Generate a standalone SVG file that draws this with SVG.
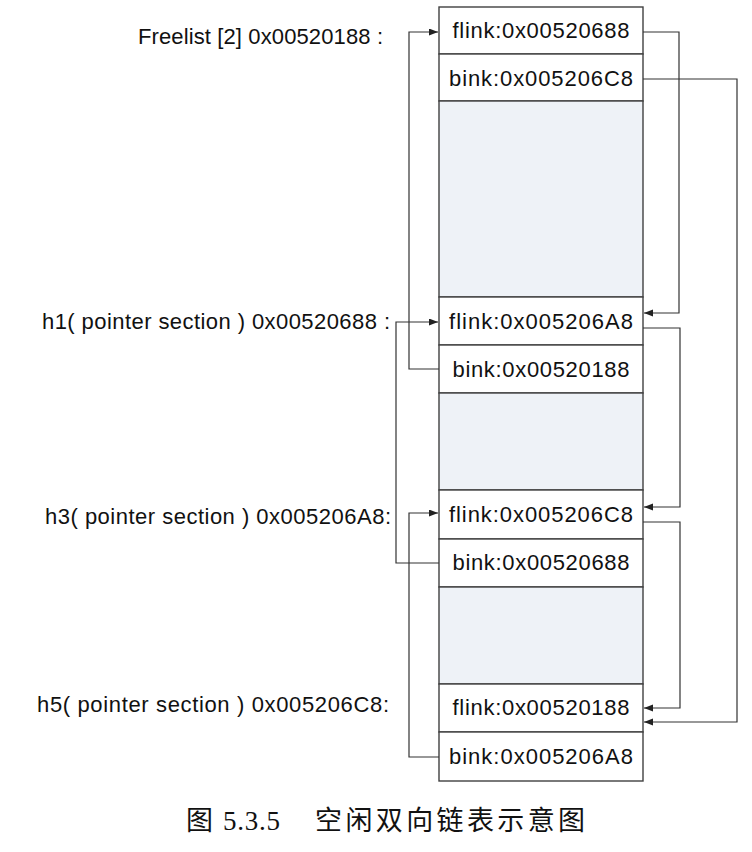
<svg xmlns="http://www.w3.org/2000/svg" width="752" height="852" viewBox="0 0 752 852">
  <style>
    .cell { fill: #ffffff; stroke: #404040; stroke-width: 1.4; }
    .gap { fill: #eef2f7; stroke: #404040; stroke-width: 1.4; }
    .ct { font-family: "Liberation Sans", Arial, sans-serif; font-size: 22px; fill: #111; text-anchor: middle; }
    .lt { font-family: "Liberation Sans", Arial, sans-serif; font-size: 22px; fill: #111; }
    .wire { fill: none; stroke: #333; stroke-width: 1.2; }
    .cap { font-family: "Liberation Serif", "Noto Sans CJK SC", serif; font-size: 27px; fill: #111; }
  </style>
  <defs>
    <marker id="arr" markerUnits="userSpaceOnUse" markerWidth="10" markerHeight="8" refX="9" refY="3.5" orient="auto">
      <path d="M0,0 L9,3.5 L0,7 z" fill="#222"/>
    </marker>
  </defs>
  <rect width="752" height="852" fill="#ffffff"/>

  <g id="freelist">
    <rect class="cell" x="439" y="7" width="204" height="47"/>
    <rect class="cell" x="439" y="54" width="204" height="47"/>
    <text class="ct" x="541" y="38" textLength="177" lengthAdjust="spacing">flink:0x00520688</text>
    <text class="ct" x="541" y="86" textLength="184" lengthAdjust="spacing">bink:0x005206C8</text>
    <text class="lt" x="138" y="44" textLength="245" lengthAdjust="spacing">Freelist [2] 0x00520188 :</text>
  </g>

  <g id="gap1">
    <rect class="gap" x="439" y="101" width="204" height="196"/>
  </g>

  <g id="h1">
    <rect class="cell" x="439" y="297" width="204" height="48"/>
    <rect class="cell" x="439" y="345" width="204" height="48"/>
    <text class="ct" x="541" y="329" textLength="184" lengthAdjust="spacing">flink:0x005206A8</text>
    <text class="ct" x="541" y="377" textLength="177" lengthAdjust="spacing">bink:0x00520188</text>
    <text class="lt" x="42" y="329" textLength="348" lengthAdjust="spacing">h1( pointer section ) 0x00520688 :</text>
  </g>

  <g id="gap2">
    <rect class="gap" x="439" y="393" width="204" height="97"/>
  </g>

  <g id="h3">
    <rect class="cell" x="439" y="490" width="204" height="49"/>
    <rect class="cell" x="439" y="539" width="204" height="48"/>
    <text class="ct" x="541" y="522" textLength="184" lengthAdjust="spacing">flink:0x005206C8</text>
    <text class="ct" x="541" y="570" textLength="177" lengthAdjust="spacing">bink:0x00520688</text>
    <text class="lt" x="45" y="524" textLength="346" lengthAdjust="spacing">h3( pointer section ) 0x005206A8:</text>
  </g>

  <g id="gap3">
    <rect class="gap" x="439" y="587" width="204" height="97"/>
  </g>

  <g id="h5">
    <rect class="cell" x="439" y="684" width="204" height="48"/>
    <rect class="cell" x="439" y="732" width="204" height="49"/>
    <text class="ct" x="541" y="715" textLength="177" lengthAdjust="spacing">flink:0x00520188</text>
    <text class="ct" x="541" y="764" textLength="184" lengthAdjust="spacing">bink:0x005206A8</text>
    <text class="lt" x="37" y="712" textLength="352" lengthAdjust="spacing">h5( pointer section ) 0x005206C8:</text>
  </g>

  <g id="connectors">
    <path class="wire" d="M643,32 H679 V313 H644" marker-end="url(#arr)"/>
    <path class="wire" d="M643,79 H737 V722 H644" marker-end="url(#arr)"/>
    <path class="wire" d="M643,328 H680 V507 H644" marker-end="url(#arr)"/>
    <path class="wire" d="M643,522 H680 V708 H644" marker-end="url(#arr)"/>
    <path class="wire" d="M439,369 H409 V32 H438" marker-end="url(#arr)"/>
    <path class="wire" d="M439,563 H396 V322 H438" marker-end="url(#arr)"/>
    <path class="wire" d="M439,757 H409 V513 H438" marker-end="url(#arr)"/>
  </g>

  <g id="caption">
    <text class="cap" x="186" y="830">图</text>
    <text class="cap" x="223" y="830" textLength="57" lengthAdjust="spacing">5.3.5</text>
    <text class="cap" x="315" y="830" textLength="270" lengthAdjust="spacing">空闲双向链表示意图</text>
  </g>
</svg>
